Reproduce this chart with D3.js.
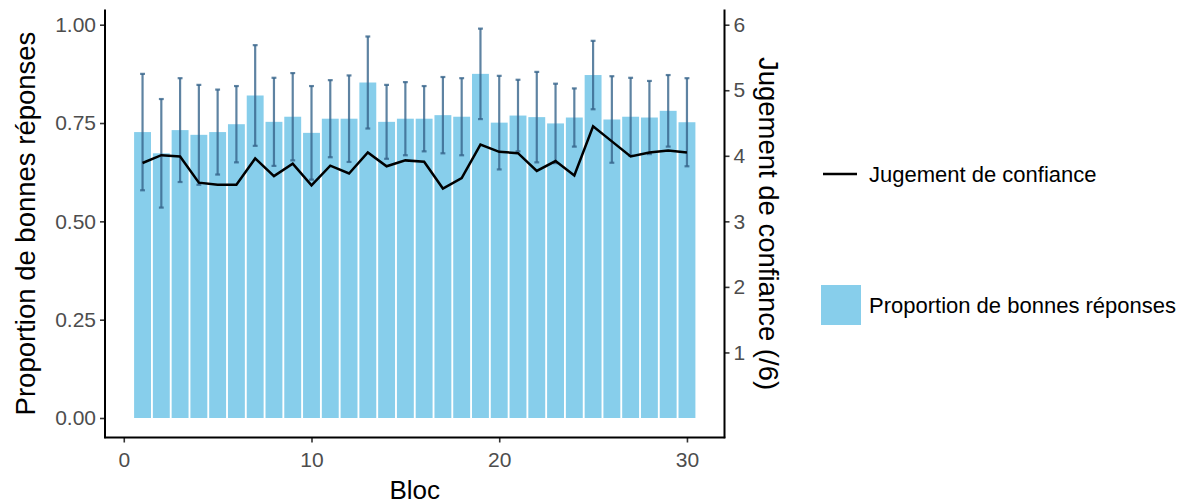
<!DOCTYPE html>
<html><head><meta charset="utf-8">
<script src="https://cdn.jsdelivr.net/npm/d3@7"></script>
<style>body{margin:0;background:#fff}svg{display:block}text{font-family:"Liberation Sans",Arial,sans-serif}</style>
</head><body><svg id="c" width="1185" height="504"></svg>
<script>
const blocs = d3.range(1, 31);
const proportion = [0.727,0.673,0.732,0.720,0.727,0.747,0.820,0.753,0.766,0.725,
                    0.761,0.761,0.853,0.753,0.761,0.761,0.770,0.766,0.875,0.751,
                    0.769,0.765,0.749,0.764,0.872,0.759,0.766,0.764,0.781,0.752];
const erreur = [0.148,0.138,0.132,0.127,0.108,0.097,0.128,0.112,0.111,0.119,
                0.098,0.110,0.117,0.094,0.093,0.083,0.097,0.098,0.115,0.119,
                0.091,0.115,0.101,0.074,0.087,0.110,0.099,0.093,0.091,0.112];
const confiance = [3.89,4.01,3.99,3.59,3.56,3.56,3.96,3.69,3.88,3.55,
                   3.85,3.73,4.05,3.84,3.93,3.91,3.50,3.66,4.17,4.06,
                   4.04,3.77,3.92,3.70,4.45,4.22,3.99,4.05,4.08,4.05];
const xTicks = [0,10,20,30];
const yTicks = [0,0.25,0.5,0.75,1];
const y2Ticks = [1,2,3,4,5,6];

(function(){
const svg = d3.select("#c");
const pL = 105, pR = 724.5, pT = 9.5, pB = 437.5;
const x = d3.scaleLinear().domain([-1, 32]).range([pL, pR]);
const y = d3.scaleLinear().domain([0, 1]).range([418, 24.7]);
const y2 = d3.scaleLinear().domain([0, 6]).range([418, 24.7]);

const data = blocs.map((b,i)=>({b, p:proportion[i], e:erreur[i], c:confiance[i]}));
const bw = x(0.9) - x(0);

// bars
svg.append("g").selectAll("rect").data(data).join("rect")
  .attr("x", d=>x(d.b)-bw/2).attr("width", bw)
  .attr("y", d=>y(d.p)).attr("height", d=>y(0)-y(d.p))
  .attr("fill", "#87CEEB");

// error bars
const eg = svg.append("g").attr("stroke", "#36648B").attr("stroke-opacity", 0.8).attr("stroke-width", 2.2).attr("fill","none");
const cw = x(0.13) - x(0);
data.forEach(d=>{
  eg.append("line").attr("x1", x(d.b)).attr("x2", x(d.b)).attr("y1", y(d.p+d.e)).attr("y2", y(d.p-d.e));
  eg.append("line").attr("x1", x(d.b)-cw).attr("x2", x(d.b)+cw).attr("y1", y(d.p+d.e)).attr("y2", y(d.p+d.e));
  eg.append("line").attr("x1", x(d.b)-cw).attr("x2", x(d.b)+cw).attr("y1", y(d.p-d.e)).attr("y2", y(d.p-d.e));
});

// confidence line
svg.append("path").datum(data)
  .attr("d", d3.line().x(d=>x(d.b)).y(d=>y2(d.c)))
  .attr("fill","none").attr("stroke","#000").attr("stroke-width",2.5).attr("stroke-linejoin","miter");

// axes
const axCol = "#000", tickCol = "#4D4D4D";
function style(g){
  g.select(".domain").remove();
  g.selectAll(".tick line").attr("stroke", "#333").attr("stroke-width", 1.6);
  g.selectAll(".tick text").attr("fill", tickCol).attr("font-size", 21);
}
const gx = svg.append("g").attr("transform", `translate(0,${pB})`)
  .call(d3.axisBottom(x).tickValues(xTicks).tickFormat(d3.format("d")).tickSize(5).tickPadding(10));
style(gx);
const gy = svg.append("g").attr("transform", `translate(${pL},0)`)
  .call(d3.axisLeft(y).tickValues(yTicks).tickFormat(d3.format(".2f")).tickSize(5).tickPadding(4));
style(gy);
const gy2 = svg.append("g").attr("transform", `translate(${pR},0)`)
  .call(d3.axisRight(y2).tickValues(y2Ticks).tickFormat(d3.format("d")).tickSize(5).tickPadding(4));
style(gy2);

// axis lines
svg.append("line").attr("x1",pL).attr("x2",pL).attr("y1",pT).attr("y2",pB+0.8).attr("stroke",axCol).attr("stroke-width",2);
svg.append("line").attr("x1",pR).attr("x2",pR).attr("y1",pT).attr("y2",pB+0.8).attr("stroke",axCol).attr("stroke-width",2);
svg.append("line").attr("x1",pL-0.8).attr("x2",pR+0.8).attr("y1",pB).attr("y2",pB).attr("stroke",axCol).attr("stroke-width",2);

// titles
svg.append("text").attr("x", (pL+pR)/2).attr("y", 499).attr("text-anchor","middle")
  .attr("font-size", 26).attr("fill","#000").text("Bloc");
svg.append("text").attr("transform", `translate(35,${(pT+pB)/2}) rotate(-90)`).attr("text-anchor","middle")
  .attr("font-size", 27.5).attr("fill","#000").text("Proportion de bonnes réponses");
svg.append("text").attr("transform", `translate(759,${(pT+pB)/2}) rotate(90)`).attr("text-anchor","middle")
  .attr("font-size", 27.5).attr("fill","#000").text("Jugement de confiance (/6)");

// legend
const lg = svg.append("g");
lg.append("line").attr("x1",823).attr("x2",857).attr("y1",174).attr("y2",174).attr("stroke","#000").attr("stroke-width",2.5);
lg.append("text").attr("x",869).attr("y",174).attr("dy","0.35em").attr("font-size",22).attr("fill","#000").text("Jugement de confiance");
lg.append("rect").attr("x",821).attr("y",285).attr("width",40).attr("height",40).attr("fill","#87CEEB");
lg.append("text").attr("x",869).attr("y",305).attr("dy","0.35em").attr("font-size",22).attr("fill","#000").text("Proportion de bonnes réponses");
})();
</script></body></html>
